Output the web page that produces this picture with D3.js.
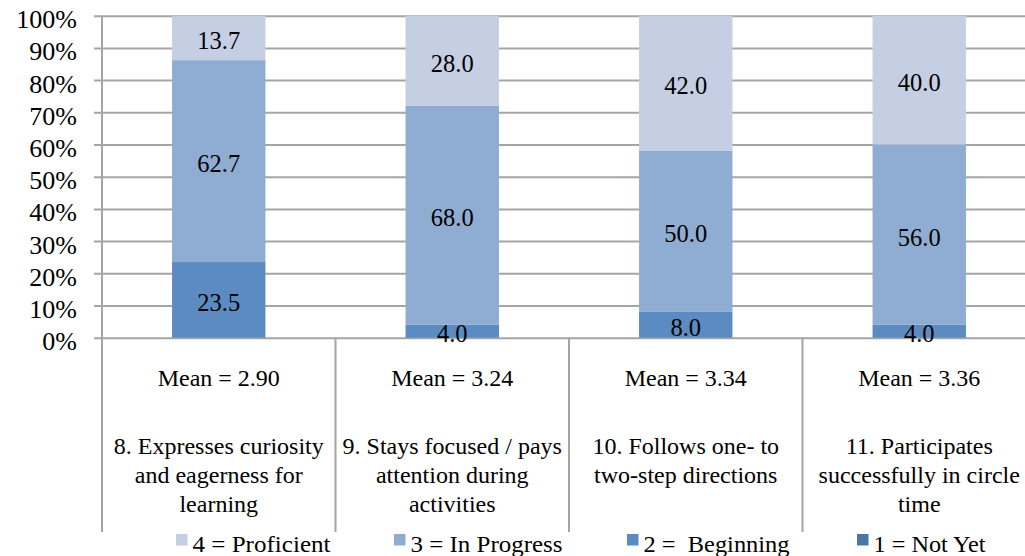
<!DOCTYPE html>
<html>
<head>
<meta charset="utf-8">
<script src="https://cdn.jsdelivr.net/npm/d3@7/dist/d3.min.js"></script>
<style>
  html, body { margin: 0; padding: 0; background: #ffffff; }
  svg { display: block; }
  text { font-family: "Liberation Serif", "Times New Roman", serif; fill: #000; }
</style>
</head>
<body>
<svg id="chart" width="1025" height="556"></svg>
<script>
// Items rated on the 4-point scale
const categories = ["item8", "item9", "item10", "item11"];
const categoryLines = [
  ["8. Expresses curiosity", "and eagerness for", "learning"],
  ["9. Stays focused / pays", "attention during", "activities"],
  ["10. Follows one- to", "two-step directions"],
  ["11. Participates", "successfully in circle", "time"]
];
const means = ["2.90", "3.24", "3.34", "3.36"];

// Percent of children at each rating level, per item
const notYet     = [0, 0, 0, 0];
const beginning  = [23.5, 4.0, 8.0, 4.0];
const inProgress = [62.7, 68.0, 50.0, 56.0];
const proficient = [13.7, 28.0, 42.0, 40.0];

const seriesKeys   = ["notYet", "beginning", "inProgress", "proficient"];
const seriesLabels = ["1 = Not Yet", "2 =  Beginning", "3 = In Progress", "4 = Proficient"];
const yTicks = [0, 10, 20, 30, 40, 50, 60, 70, 80, 90, 100];

const seriesValues = { notYet, beginning, inProgress, proficient };
const colors = {
  notYet: "#4a75a7",
  beginning: "#5b8bc0",
  inProgress: "#8fadd2",
  proficient: "#c4cfe3"
};

const rows = categories.map((c, i) => {
  const r = { cat: c };
  seriesKeys.forEach(k => { r[k] = seriesValues[k][i]; });
  return r;
});

const svg = d3.select("#chart");
const plot = { left: 102, right: 1036, top: 15.7, bottom: 337.7 };
const gridColor = "#a5a5a5";

const x = d3.scaleBand()
  .domain(categories)
  .range([plot.left, plot.right])
  .paddingInner(0.6)
  .paddingOuter(0.3);

const y = d3.scaleLinear()
  .domain([0, 100])
  .range([plot.bottom, plot.top]);

// Horizontal gridlines with short ticks to the left of the axis
const yAxis = d3.axisLeft(y)
  .tickValues(yTicks)
  .tickSize(-(plot.right - plot.left))
  .tickSizeOuter(0)
  .tickFormat(d => d + "%");

const yg = svg.append("g")
  .attr("transform", `translate(${plot.left},0)`)
  .call(yAxis);
yg.select(".domain").remove();
yg.selectAll(".tick line")
  .attr("x1", -8)
  .attr("stroke", gridColor)
  .attr("stroke-width", 2);
yg.selectAll(".tick text")
  .attr("x", -25)
  .attr("dy", "0.46em")
  .style("font-size", "26px")
  .style("font-family", "'Liberation Serif', serif")
  .attr("fill", "#000");

// Vertical axis line continuing down through the category area
const axisBottom = 532;
svg.append("line")
  .attr("x1", plot.left).attr("x2", plot.left)
  .attr("y1", plot.top).attr("y2", axisBottom)
  .attr("stroke", gridColor).attr("stroke-width", 2);

// Category separators below the baseline
d3.range(1, categories.length + 1).forEach(i => {
  const bx = x.range()[0] + i * x.step();
  svg.append("line")
    .attr("x1", bx).attr("x2", bx)
    .attr("y1", plot.bottom).attr("y2", axisBottom)
    .attr("stroke", gridColor).attr("stroke-width", 2);
});

// Stacked bars
const stack = d3.stack().keys(seriesKeys);
const stacked = stack(rows);

const layers = svg.append("g").selectAll("g")
  .data(stacked)
  .join("g")
  .attr("fill", d => colors[d.key]);

layers.selectAll("rect")
  .data(d => d)
  .join("rect")
  .attr("x", d => x(d.data.cat))
  .attr("width", x.bandwidth())
  .attr("y", d => y(d[1]))
  .attr("height", d => y(d[0]) - y(d[1]));

// Value labels centred in each segment
const labelG = svg.append("g");
stacked.forEach(layer => {
  layer.forEach(d => {
    const v = d[1] - d[0];
    if (v <= 0) return;
    labelG.append("text")
      .attr("x", x(d.data.cat) + x.bandwidth() / 2)
      .attr("y", (y(d[0]) + y(d[1])) / 2 + 11)
      .attr("text-anchor", "middle")
      .style("font-size", "24.5px")
      .text(v.toFixed(1));
  });
});

// Category area: mean row and item names
const catG = svg.append("g");
categories.forEach((c, i) => {
  const cx = x(c) + x.bandwidth() / 2;
  catG.append("text")
    .attr("x", cx).attr("y", 386)
    .attr("text-anchor", "middle")
    .style("font-size", "24px")
    .text("Mean = " + means[i]);
  categoryLines[i].forEach((line, j) => {
    catG.append("text")
      .attr("x", cx).attr("y", 454 + j * 28.9)
      .attr("text-anchor", "middle")
      .style("font-size", "24px")
      .text(line);
  });
});

// Legend (highest level first)
const legendOrder = ["proficient", "inProgress", "beginning", "notYet"];
const legendX = [176, 394, 627, 857];
const legendTextLen = [138, 152, 146, 112];
const legend = svg.append("g");
legendOrder.forEach((k, i) => {
  const label = seriesLabels[seriesKeys.indexOf(k)];
  legend.append("rect")
    .attr("x", legendX[i]).attr("y", 534)
    .attr("width", 11.5).attr("height", 11.5)
    .attr("fill", colors[k]);
  legend.append("text")
    .attr("x", legendX[i] + 16.5).attr("y", 552)
    .attr("textLength", legendTextLen[i])
    .attr("lengthAdjust", "spacingAndGlyphs")
    .style("font-size", "23px")
    .style("white-space", "pre")
    .text(label);
});
</script>
</body>
</html>
